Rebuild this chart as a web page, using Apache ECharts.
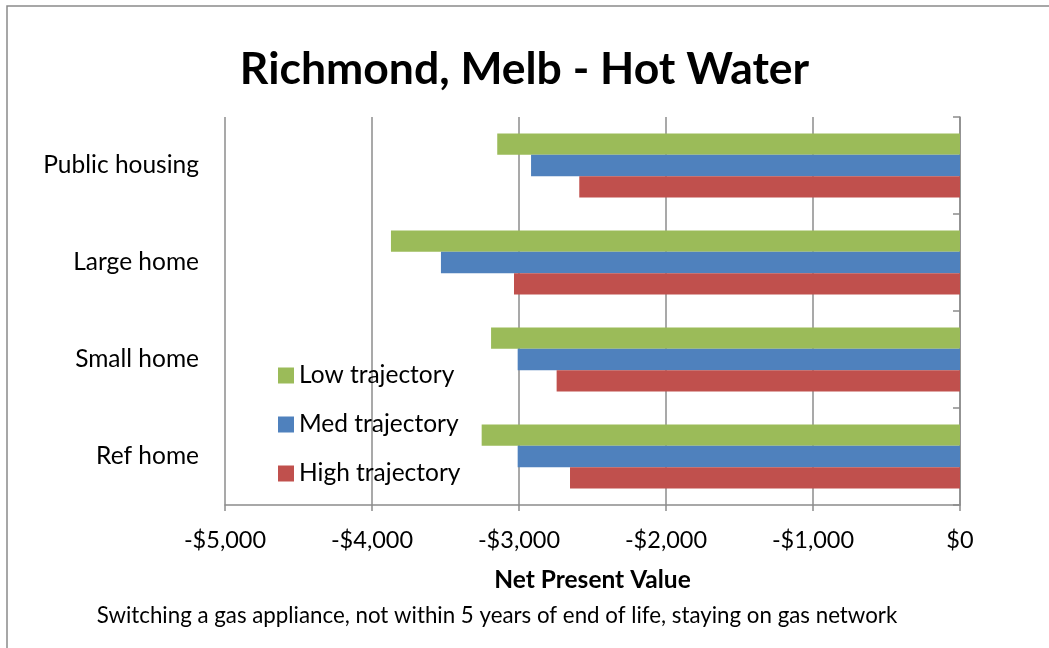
<!DOCTYPE html>
<html>
<head>
<meta charset="utf-8">
<script src="https://cdn.jsdelivr.net/npm/echarts@6/dist/echarts.min.js"></script>
<style>
	html, body { margin: 0; padding: 0; background: #fff; }
	#chart { width: 1049px; height: 648px; }
</style>
</head>
<body>
<div id="chart"></div>
<script>
var categories = ["Ref home", "Small home", "Large home", "Public housing"];
var lowTrajectory = [-3254, -3190, -3871, -3148];
var medTrajectory = [-3009, -3009, -3531, -2918];
var highTrajectory = [-2653, -2744, -3034, -2590];
var xTicks = [-5000, -4000, -3000, -2000, -1000, 0];

var fontName = "Lato";
var gridColor = "#8c8c8c";

function money(v) {
	if (v < 0) {
		return "-$" + Math.abs(v).toLocaleString("en-US");
	}
	return "$" + v;
}

var myChart = echarts.init(document.getElementById("chart"));
var option = {
	animation: false,
	textStyle: { fontFamily: fontName },
	title: {
		text: "Richmond, Melb - Hot Water",
		left: "center",
		top: 42,
		textStyle: { fontSize: 44.5, fontWeight: "bold", color: "#000", fontFamily: fontName },
	},
	graphic: [
		{
			type: "rect",
			shape: { x: 7, y: 6, width: 1100, height: 700 },
			style: { fill: null, stroke: "#8a8a8a", lineWidth: 1.5 },
			silent: true,
		},
		{
			type: "text",
			x: 497,
			y: 616,
			style: {
				text: "Switching a gas appliance, not within 5 years of end of life, staying on gas network",
				fontSize: 22.3,
				fontFamily: fontName,
				fill: "#000",
				align: "center",
				verticalAlign: "middle",
			},
		},
	],
	legend: {
		orient: "vertical",
		left: 273,
		top: 358,
		itemWidth: 16,
		itemHeight: 16,
		itemGap: 24,
		icon: "rect",
		data: ["Low trajectory", "Med trajectory", "High trajectory"],
		textStyle: { fontSize: 24.5, color: "#000", lineHeight: 24, fontFamily: fontName },
	},
	grid: { left: 225, right: 89, top: 117, bottom: 143, containLabel: false },
	xAxis: {
		type: "value",
		min: xTicks[0],
		max: xTicks[xTicks.length - 1],
		interval: 1000,
		name: "Net Present Value",
		nameLocation: "middle",
		nameGap: 63,
		nameTextStyle: { fontSize: 24.5, fontWeight: "bold", color: "#000", fontFamily: fontName },
		axisLine: { show: true, onZero: false, lineStyle: { color: gridColor, width: 1.5 } },
		axisTick: { show: true, length: 6, lineStyle: { color: gridColor, width: 1.5 } },
		axisLabel: { formatter: money, fontSize: 23.5, color: "#000", margin: 23 },
		splitLine: { show: true, lineStyle: { color: gridColor, width: 1.5, type: "solid" } },
	},
	yAxis: [
		{
			type: "category",
			data: categories,
			position: "left",
			axisLine: { show: false, onZero: false },
			axisTick: { show: false },
			axisLabel: { fontSize: 24.5, color: "#000", margin: 26, padding: [3, 0, 0, 0] },
		},
		{
			type: "category",
			data: categories,
			position: "right",
			axisLine: { show: true, onZero: false, lineStyle: { color: gridColor, width: 1.5 } },
			axisTick: { show: true, inside: true, length: 7, lineStyle: { color: gridColor, width: 1.5 } },
			axisLabel: { show: false },
		},
	],
	series: [
		{
			name: "Low trajectory",
			type: "bar",
			data: lowTrajectory,
			color: "#9BBB59",
			barGap: 0,
			barCategoryGap: "34%",
		},
		{
			name: "Med trajectory",
			type: "bar",
			data: medTrajectory,
			color: "#4F81BD",
			barGap: 0,
			barCategoryGap: "34%",
		},
		{
			name: "High trajectory",
			type: "bar",
			data: highTrajectory,
			color: "#C0504D",
			barGap: 0,
			barCategoryGap: "34%",
		},
	],
};
option && myChart.setOption(option);
</script>
</body>
</html>
